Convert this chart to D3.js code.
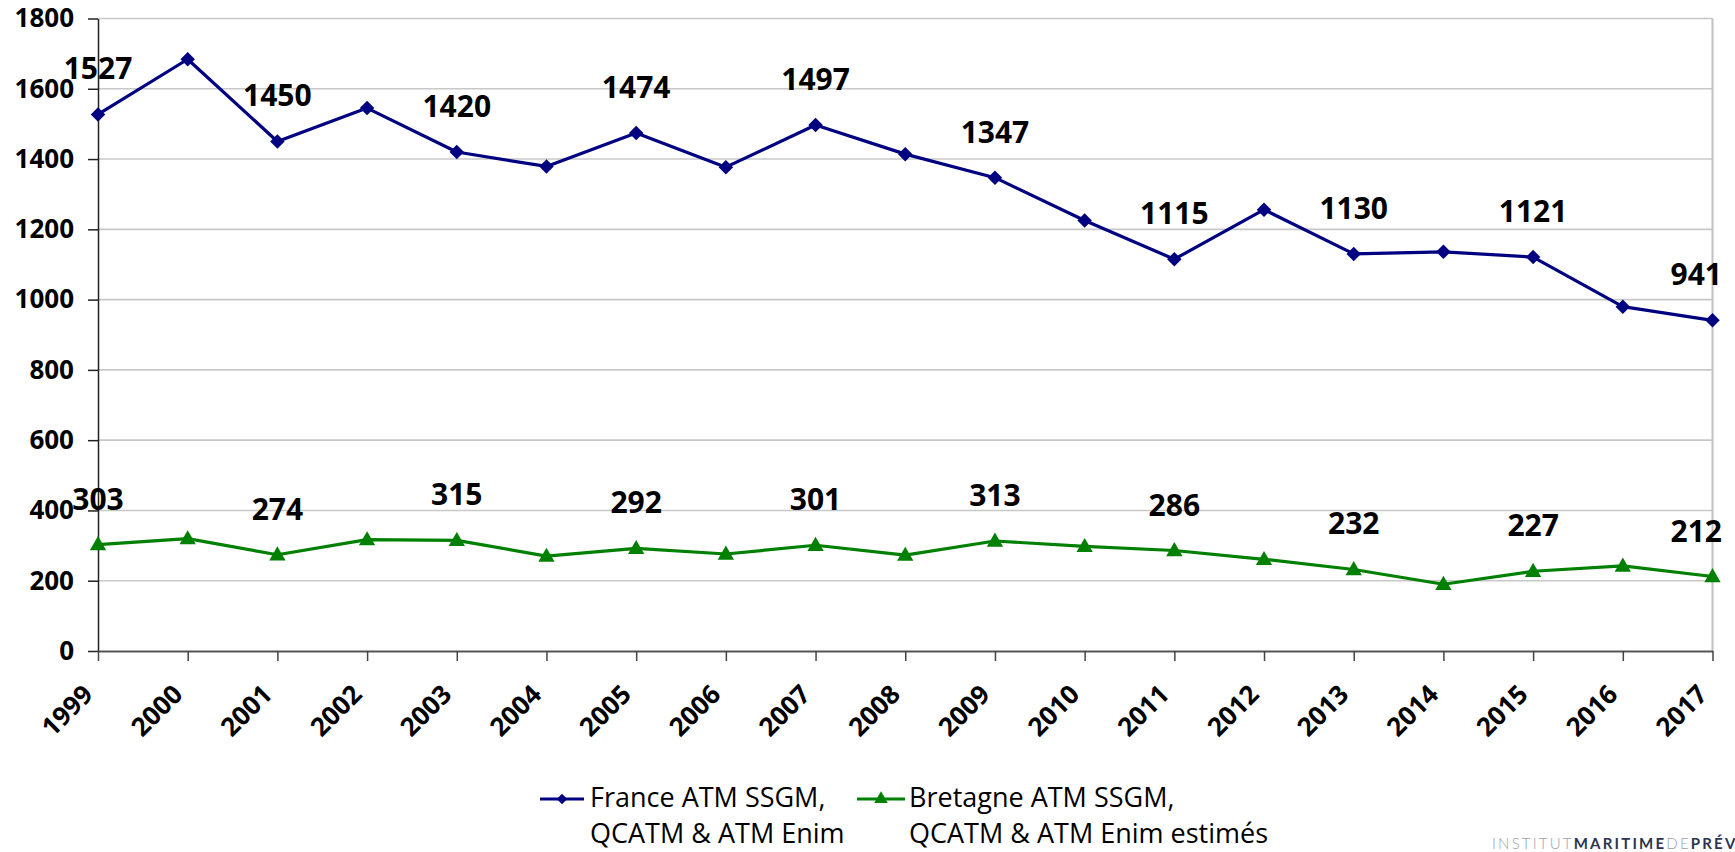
<!DOCTYPE html>
<html>
<head>
<meta charset="utf-8">
<script src="https://cdn.jsdelivr.net/npm/d3@7"></script>
<style>
  body { margin: 0; background: #fff; }
  svg { display: block; font-family: 'Open Sans', 'Noto Sans', sans-serif; }
</style>
</head>
<body>
<div id="chart"></div>
<script>
// ---- Data ----
const years = [1999, 2000, 2001, 2002, 2003, 2004, 2005, 2006, 2007, 2008,
               2009, 2010, 2011, 2012, 2013, 2014, 2015, 2016, 2017];
const france = [1527, 1684, 1450, 1545, 1420, 1379, 1474, 1377, 1497, 1414,
                1347, 1225, 1115, 1256, 1130, 1136, 1121, 980, 941];
const bretagne = [303, 320, 274, 317, 315, 270, 292, 276, 301, 273,
                  313, 298, 286, 261, 232, 190, 227, 242, 212];
const yTicks = [0, 200, 400, 600, 800, 1000, 1200, 1400, 1600, 1800];
const franceLegend = ['France ATM SSGM,', 'QCATM & ATM Enim'];
const bretagneLegend = ['Bretagne ATM SSGM,', 'QCATM & ATM Enim estimés'];

const W = 1735, H = 852;
const NAVY = '#000080', GREEN = '#008000';

const svg = d3.select('#chart').append('svg')
  .attr('width', W).attr('height', H)
  .attr('viewBox', `0 0 ${W} ${H}`);

// ---- Scales ----
const x = d3.scalePoint().domain(years).range([98, 1712.5]);
const y = d3.scaleLinear().domain([0, 1800]).range([651, 18.5]);

// ---- Grid + plot border ----
svg.append('g').selectAll('line')
  .data(yTicks.filter(d => d > 0))
  .enter().append('line')
  .attr('x1', 98).attr('x2', 1712.5)
  .attr('y1', d => y(d)).attr('y2', d => y(d))
  .attr('stroke', '#c8c8c8').attr('stroke-width', 1.6);

svg.append('line')
  .attr('x1', 1712.5).attr('x2', 1712.5)
  .attr('y1', y(1800)).attr('y2', y(0))
  .attr('stroke', '#c0c0c0').attr('stroke-width', 2);

// ---- Axes ----
const yAxis = svg.append('g')
  .attr('transform', 'translate(98,0)')
  .call(d3.axisLeft(y).tickValues(yTicks).tickFormat(d3.format('d'))
    .tickSize(10).tickSizeOuter(0).tickPadding(14));
yAxis.select('.domain').attr('stroke', '#222').attr('stroke-width', 1.5);
yAxis.selectAll('.tick line').attr('stroke', '#222').attr('stroke-width', 1.5);
yAxis.selectAll('text')
  .style('font-size', '26px').style('font-weight', '700')
  .style('font-family', "'Open Sans', sans-serif").attr('fill', '#000');

const xAxis = svg.append('g')
  .attr('transform', `translate(0,${y(0)})`)
  .call(d3.axisBottom(x).tickSize(10).tickSizeOuter(0));
xAxis.select('.domain').attr('stroke', '#555').attr('stroke-width', 2.2);
xAxis.selectAll('.tick line').attr('stroke', '#444').attr('stroke-width', 1.5);
xAxis.selectAll('text')
  .attr('x', 0).attr('y', 0).attr('dy', 0)
  .attr('text-anchor', 'end')
  .attr('transform', 'translate(-4,45) rotate(-45)')
  .style('font-size', '26px').style('font-weight', '700')
  .style('font-family', "'Open Sans', sans-serif").attr('fill', '#000');

// ---- Series ----
const series = [
  { name: 'france', values: france, color: NAVY, shape: 'diamond' },
  { name: 'bretagne', values: bretagne, color: GREEN, shape: 'triangle' }
];

const diamond = d3.symbol(d3.symbolSquare, 105);
const triangle = d3.symbol(d3.symbolTriangle, 115);

series.forEach(s => {
  const pts = years.map((yr, i) => ({ yr, v: s.values[i] }));
  const line = d3.line().x(d => x(d.yr)).y(d => y(d.v));

  svg.append('path')
    .datum(pts)
    .attr('d', line)
    .attr('fill', 'none')
    .attr('stroke', s.color)
    .attr('stroke-width', 3.2)
    .attr('stroke-linejoin', 'round');

  svg.append('g').selectAll('path')
    .data(pts)
    .enter().append('path')
    .attr('d', s.shape === 'diamond' ? diamond : triangle)
    .attr('transform', d => s.shape === 'diamond'
      ? `translate(${x(d.yr)},${y(d.v)}) rotate(45)`
      : `translate(${x(d.yr)},${y(d.v) + 1})`)
    .attr('fill', s.color);

  // value labels on odd years
  const lab = svg.append('g').selectAll('text')
    .data(pts.filter((d, i) => i % 2 === 0))
    .enter().append('text')
    .attr('x', d => x(d.yr))
    .attr('y', d => y(d.v) - 35)
    .attr('text-anchor', 'middle')
    .style('font-size', '30px')
    .style('font-weight', '700')
    .attr('fill', '#000')
    .text(d => d.v);
  // keep labels inside the right edge
  lab.each(function () {
    const bb = this.getBBox();
    if (bb.x + bb.width > 1722) {
      d3.select(this).attr('x', +d3.select(this).attr('x') - (bb.x + bb.width - 1722));
    }
  });
});

// ---- Legend ----
const legend = svg.append('g').style('font-size', '27px').attr('fill', '#000');

legend.append('line').attr('x1', 540).attr('x2', 584).attr('y1', 799).attr('y2', 799)
  .attr('stroke', NAVY).attr('stroke-width', 3.2);
legend.append('path').attr('d', d3.symbol(d3.symbolSquare, 55))
  .attr('transform', 'translate(562,799) rotate(45)').attr('fill', NAVY);
legend.append('text').attr('x', 590).attr('y', 807)
  .selectAll('tspan').data(franceLegend).enter().append('tspan')
  .attr('x', 590).attr('dy', (d, i) => i === 0 ? 0 : 36).text(d => d);

legend.append('line').attr('x1', 857).attr('x2', 905).attr('y1', 799).attr('y2', 799)
  .attr('stroke', GREEN).attr('stroke-width', 3.2);
legend.append('path').attr('d', d3.symbol(d3.symbolTriangle, 80))
  .attr('transform', 'translate(881,799)').attr('fill', GREEN);
legend.append('text').attr('x', 909).attr('y', 807)
  .selectAll('tspan').data(bretagneLegend).enter().append('tspan')
  .attr('x', 909).attr('dy', (d, i) => i === 0 ? 0 : 36).text(d => d);

// ---- Watermark (runs off the right edge as in the source) ----
const wm = svg.append('text')
  .attr('x', 1492).attr('y', 849)
  .style('font-size', '15px').style('letter-spacing', '2.2px')
  .style('font-family', "'Lato', 'Open Sans', sans-serif");
wm.append('tspan').attr('fill', '#9aa0a8').style('font-weight', '300').text('INSTITUT');
wm.append('tspan').attr('fill', '#2b3550').style('font-weight', '700').text('MARITIME');
wm.append('tspan').attr('fill', '#9aa0a8').style('font-weight', '300').text('DE');
wm.append('tspan').attr('fill', '#2b3550').style('font-weight', '700').text('PRÉVENTION');
</script>
</body>
</html>
